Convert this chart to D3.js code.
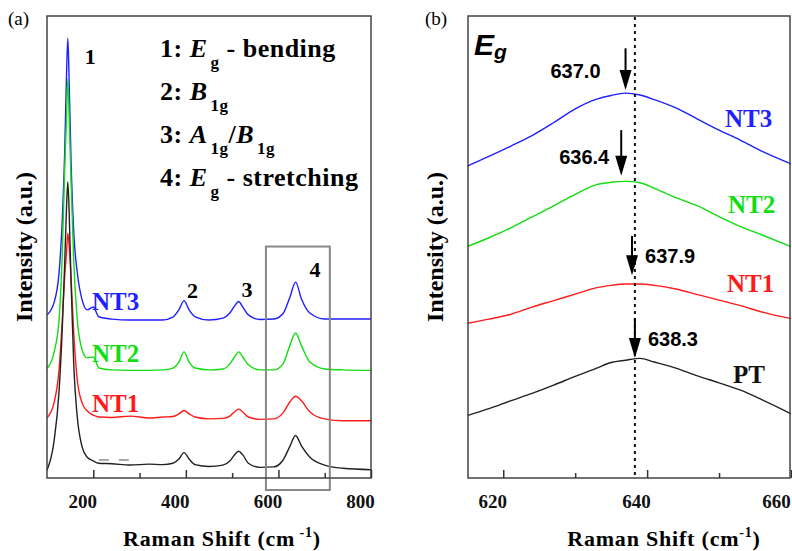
<!DOCTYPE html>
<html>
<head>
<meta charset="utf-8">
<script src="https://d3js.org/d3.v7.min.js"></script>
<style>
  body { margin: 0; background: #fff; }
  text { font-family: "Liberation Serif", "Times New Roman", serif; }
</style>
</head>
<body>
<div id="chart"></div>
<script>

// Panel (a): full spectra, stacked (a.u.)
const shiftA = [100, 115, 126, 133, 138, 142, 145, 148, 152, 158, 165, 176, 187, 200, 212, 240, 280, 320, 350, 372,
                385, 396, 407, 420, 450, 480, 495, 505, 514, 523, 535, 560, 590, 610, 625, 637, 650, 668, 700, 740, 800];

const nt3A = [35.3, 37.9, 44.4, 55.8, 69.7, 86.6, 95.2, 85.3, 68.4, 52.8, 44.8, 38.5, 36.4, 37.0, 34.9, 34.4, 34.2, 34.2, 34.2, 34.8,
              36.4, 38.4, 36.4, 34.9, 34.2, 34.6, 35.7, 37.2, 38.2, 37.0, 35.3, 34.3, 34.4, 35.6, 39.2, 42.4, 38.7, 35.7, 34.4, 34.4, 34.4];
const nt2A = [23.7, 27.1, 34.2, 48.7, 66.0, 77.5, 86.4, 77.7, 63.9, 46.5, 34.8, 27.7, 26.0, 26.2, 23.8, 23.4, 23.3, 23.3, 23.4, 23.8,
              25.1, 27.3, 25.1, 23.8, 23.4, 23.6, 24.7, 26.2, 27.3, 26.2, 24.5, 23.4, 23.4, 24.7, 28.8, 31.4, 28.6, 25.1, 23.6, 23.4, 23.3];
const nt1A = [13.0, 16.2, 23.4, 34.2, 43.3, 48.7, 53.0, 50.0, 43.3, 31.0, 21.6, 16.2, 14.5, 13.6, 13.2, 13.1, 13.4, 13.0, 13.2, 13.3,
              13.9, 14.6, 13.9, 13.2, 12.8, 12.9, 13.4, 14.3, 14.9, 14.3, 13.2, 12.7, 12.8, 14.1, 16.5, 17.7, 16.7, 14.3, 12.8, 12.4, 12.4];
const ptA  = [1.7, 7.8, 18.7, 32.3, 45.7, 58.0, 64.1, 57.1, 42.2, 24.0, 13.6, 6.7, 4.5, 3.7, 3.2, 3.1, 2.8, 3.0, 2.9, 3.2,
              4.1, 5.5, 4.1, 2.9, 2.5, 2.8, 3.7, 5.0, 5.8, 5.0, 3.2, 2.3, 2.4, 3.9, 6.9, 9.2, 6.9, 4.5, 2.8, 2.1, 1.8];

// Panel (b): zoom on the Eg stretching mode
const shiftB = [615, 618, 621, 624, 627, 630, 633, 635, 637, 639, 641, 644, 647, 650, 653, 656, 660];
const nt3B = [67.5, 69.6, 71.8, 74.1, 76.9, 79.9, 82.0, 82.8, 83.3, 82.9, 81.9, 80.1, 77.7, 75.3, 73.1, 70.7, 68.0];
const nt2B = [50.1, 52.0, 54.1, 56.5, 58.9, 61.4, 63.5, 64.0, 64.2, 63.9, 62.7, 60.7, 58.9, 56.6, 54.4, 52.6, 50.1];
const nt1B = [33.5, 34.4, 35.4, 37.0, 38.4, 39.8, 41.2, 41.7, 42.0, 42.0, 41.7, 40.9, 39.7, 38.5, 37.3, 35.9, 34.5];
const ptB  = [13.5, 15.0, 16.7, 18.3, 20.1, 22.0, 23.8, 25.0, 25.5, 25.9, 25.1, 23.8, 22.1, 20.6, 19.0, 16.9, 13.9];

const sampleNames = ["NT3", "NT2", "NT1", "PT"];
const sampleColors = ["#1f1fff", "#11dd11", "#ff1a1a", "#222222"];

// Peak positions marked with arrows in (b), and arrow ends (a.u.)
const peakPositions = [637.0, 636.4, 637.9, 638.3];
const arrowTips  = [84.0, 65.4, 43.9, 26.0];
const arrowTails = [93.0, 75.3, 52.4, 34.6];
const referencePeak = 638.3;

// Ticks
const majorTicksA = [200, 400, 600, 800];
const minorTicksA = [300, 500, 700];
const majorTicksB = [620, 640, 660];
const minorTicksB = [630, 650];

// Mode labels in (a)
const peakMarks = [["1", 145], ["2", 396], ["3", 514], ["4", 637]];
const boxRange = [573, 711];
const boxLevels = [-2.6, 50.1];
const ptDash = [[212, 3.9], [277, 3.9]];

let svg = d3.select("#chart")
    .append("svg")
    .attr("width", 792)
    .attr("height", 551);

let yScale = d3.scaleLinear().domain([0, 100]).range([478, 16]);

function stack(xs, ys) {
    return xs.map((s, i) => ({ shift: s, v: ys[i] }));
}

function drawAxis(x, major, minor) {
    // Inward major ticks with labels, inward minor ticks without
    let gMaj = svg.append("g")
        .attr("transform", "translate(0,478)")
        .call(d3.axisBottom(x).tickValues(major).tickSize(-8).tickFormat(d3.format("d")));
    let gMin = svg.append("g")
        .attr("transform", "translate(0,478)")
        .call(d3.axisBottom(x).tickValues(minor).tickSize(-5).tickFormat(""));
    [gMaj, gMin].forEach(g => {
        g.select(".domain").remove();
        g.selectAll(".tick line").attr("stroke", "#333").attr("stroke-width", 1.5);
    });
    // labels sit a little left of their ticks, last one kept inside the page
    gMaj.selectAll(".tick text")
        .attr("y", 30)
        .attr("dy", 0)
        .attr("dx", (d, i) => i == major.length - 1 && x(d) > 700 ? -15 : -11)
        .attr("fill", "#111")
        .style("font-family", "Liberation Serif")
        .style("font-weight", "bold")
        .style("font-size", "19px");
}

function axisTitles(cx, cyX, cyY, supSpace) {
    let t = svg.append("text")
        .attr("x", cx)
        .attr("y", 546)
        .attr("text-anchor", "middle")
        .style("font-weight", "bold")
        .style("font-size", "22px")
        .style("letter-spacing", "0.8px")
        .text("Raman Shift (cm");
    t.append("tspan").attr("dy", -9).style("font-size", "14px").text(supSpace ? " -1" : "-1");
    t.append("tspan").attr("dy", 9).text(")");

    svg.append("text")
        .attr("transform", `translate(${cyX},${cyY}) rotate(-90)`)
        .attr("text-anchor", "middle")
        .style("font-weight", "bold")
        .style("font-size", "24px")
        .text("Intensity (a.u.)");
}

// ---------- Panel (a) ----------
let xA = d3.scaleLinear().domain([100, 800]).range([47, 371]);

let lineA = d3.line()
    .x(d => xA(d.shift))
    .y(d => yScale(d.v))
    .curve(d3.curveMonotoneX);

[nt3A, nt2A, nt1A, ptA].forEach((ys, i) => {
    svg.append("path")
        .datum(stack(shiftA, ys))
        .attr("fill", "none")
        .attr("stroke", sampleColors[i])
        .attr("stroke-width", 1.4)
        .attr("d", lineA);
});

svg.append("path")
    .attr("d", d3.line().x(d => xA(d[0])).y(d => yScale(d[1]))(ptDash))
    .attr("stroke", "#555")
    .attr("stroke-width", 1.2)
    .attr("stroke-dasharray", "10,10");

// Box around the Eg stretching mode
svg.append("rect")
    .attr("x", xA(boxRange[0]))
    .attr("y", yScale(boxLevels[1]))
    .attr("width", xA(boxRange[1]) - xA(boxRange[0]))
    .attr("height", yScale(boxLevels[0]) - yScale(boxLevels[1]))
    .attr("fill", "none")
    .attr("stroke", "#888")
    .attr("stroke-width", 2);

svg.append("rect")
    .attr("x", 47).attr("y", 16)
    .attr("width", 324).attr("height", 462)
    .attr("fill", "none")
    .attr("stroke", "#444")
    .attr("stroke-width", 1.5);

drawAxis(xA, majorTicksA, minorTicksA);
axisTitles(222, 31.5, 247, true);

svg.append("text").attr("x", 8).attr("y", 25).style("font-size", "19px").text("(a)");

// Peak numbers
let markOffsets = [[17, 64], [3, 298], [3, 297], [14, 277]];
peakMarks.forEach((m, i) => {
    svg.append("text")
        .attr("x", xA(m[1]) + markOffsets[i][0])
        .attr("y", markOffsets[i][1])
        .style("font-weight", "bold")
        .style("font-size", "22px")
        .text(m[0]);
});

// Mode assignment legend
let legend = [
    [["1: ", ""], ["E", "i"], ["g", "s"], [" - bending", ""]],
    [["2: ", ""], ["B", "i"], ["1g", "s"]],
    [["3: ", ""], ["A", "i"], ["1g", "s"], ["/", ""], ["B", "i"], ["1g", "s"]],
    [["4: ", ""], ["E", "i"], ["g", "s"], [" - stretching", ""]]
];
legend.forEach((parts, row) => {
    let t = svg.append("text")
        .attr("x", 160)
        .attr("y", 57 + row * 43)
        .style("font-weight", "bold")
        .style("font-size", "26px")
        .style("letter-spacing", "0.5px");
    let lowered = false;
    parts.forEach(p => {
        let ts = t.append("tspan").text(p[0]);
        if (p[1] == "i") ts.style("font-style", "italic");
        if (p[1] == "s") {
            ts.style("font-size", "17px").attr("dx", 3);
            if (!lowered) { ts.attr("dy", 11); lowered = true; }
        } else if (lowered) {
            ts.attr("dy", -11);
            lowered = false;
        }
    });
});

// Sample labels in (a)
let labelYA = [310, 362, 412];
labelYA.forEach((ly, i) => {
    svg.append("text")
        .attr("x", 92)
        .attr("y", ly)
        .attr("fill", sampleColors[i])
        .style("font-weight", "bold")
        .style("font-size", "25px")
        .text(sampleNames[i]);
});

// ---------- Panel (b) ----------
let xB = d3.scaleLinear().domain([615.1, 660]).range([468, 791]);

let lineB = d3.line()
    .x(d => xB(d.shift))
    .y(d => yScale(d.v))
    .curve(d3.curveMonotoneX);

[nt3B, nt2B, nt1B, ptB].forEach((ys, i) => {
    svg.append("path")
        .datum(stack(shiftB, ys))
        .attr("fill", "none")
        .attr("stroke", sampleColors[i])
        .attr("stroke-width", 1.4)
        .attr("d", lineB);
});

// Dotted reference line at the PT peak
svg.append("line")
    .attr("x1", xB(referencePeak)).attr("x2", xB(referencePeak))
    .attr("y1", 17).attr("y2", 478)
    .attr("stroke", "#111")
    .attr("stroke-width", 2)
    .attr("stroke-dasharray", "3,4");

// Arrows and peak values
let valueDx = [-25, -12, 13, 13];
peakPositions.forEach((p, i) => {
    let px = xB(p), tip = yScale(arrowTips[i]), tail = yScale(arrowTails[i]);
    svg.append("line")
        .attr("x1", px).attr("x2", px)
        .attr("y1", tail).attr("y2", tip - 18)
        .attr("stroke", "#000")
        .attr("stroke-width", 2);
    svg.append("path")
        .attr("d", `M${px - 6},${tip - 20} L${px + 6},${tip - 20} L${px},${tip} Z`)
        .attr("fill", "#000");
    svg.append("text")
        .attr("x", px + valueDx[i])
        .attr("y", tip - 12)
        .attr("text-anchor", valueDx[i] < 0 ? "end" : "start")
        .style("font-family", "Liberation Sans, Arial, sans-serif")
        .style("font-weight", "bold")
        .style("font-size", "20px")
        .text(p.toFixed(1));
});

svg.append("rect")
    .attr("x", 468).attr("y", 16)
    .attr("width", 322).attr("height", 462)
    .attr("fill", "none")
    .attr("stroke", "#444")
    .attr("stroke-width", 1.5);

drawAxis(xB, majorTicksB, minorTicksB);
axisTitles(664, 443, 247, false);

svg.append("text").attr("x", 425).attr("y", 25).style("font-size", "19px").text("(b)");

let eg = svg.append("text")
    .attr("x", 474)
    .attr("y", 55)
    .style("font-family", "Liberation Sans, Arial, sans-serif")
    .style("font-weight", "bold")
    .style("font-style", "italic")
    .style("font-size", "30px")
    .text("E");
eg.append("tspan").attr("dy", 4).style("font-size", "21px").text("g");

// Sample labels in (b)
let labelPosB = [[725, 127], [728, 213], [727, 292], [733, 383]];
labelPosB.forEach((lp, i) => {
    svg.append("text")
        .attr("x", lp[0])
        .attr("y", lp[1])
        .attr("fill", i == 3 ? "#111" : sampleColors[i])
        .style("font-weight", "bold")
        .style("font-size", "25px")
        .text(sampleNames[i]);
});

</script>
</body>
</html>
